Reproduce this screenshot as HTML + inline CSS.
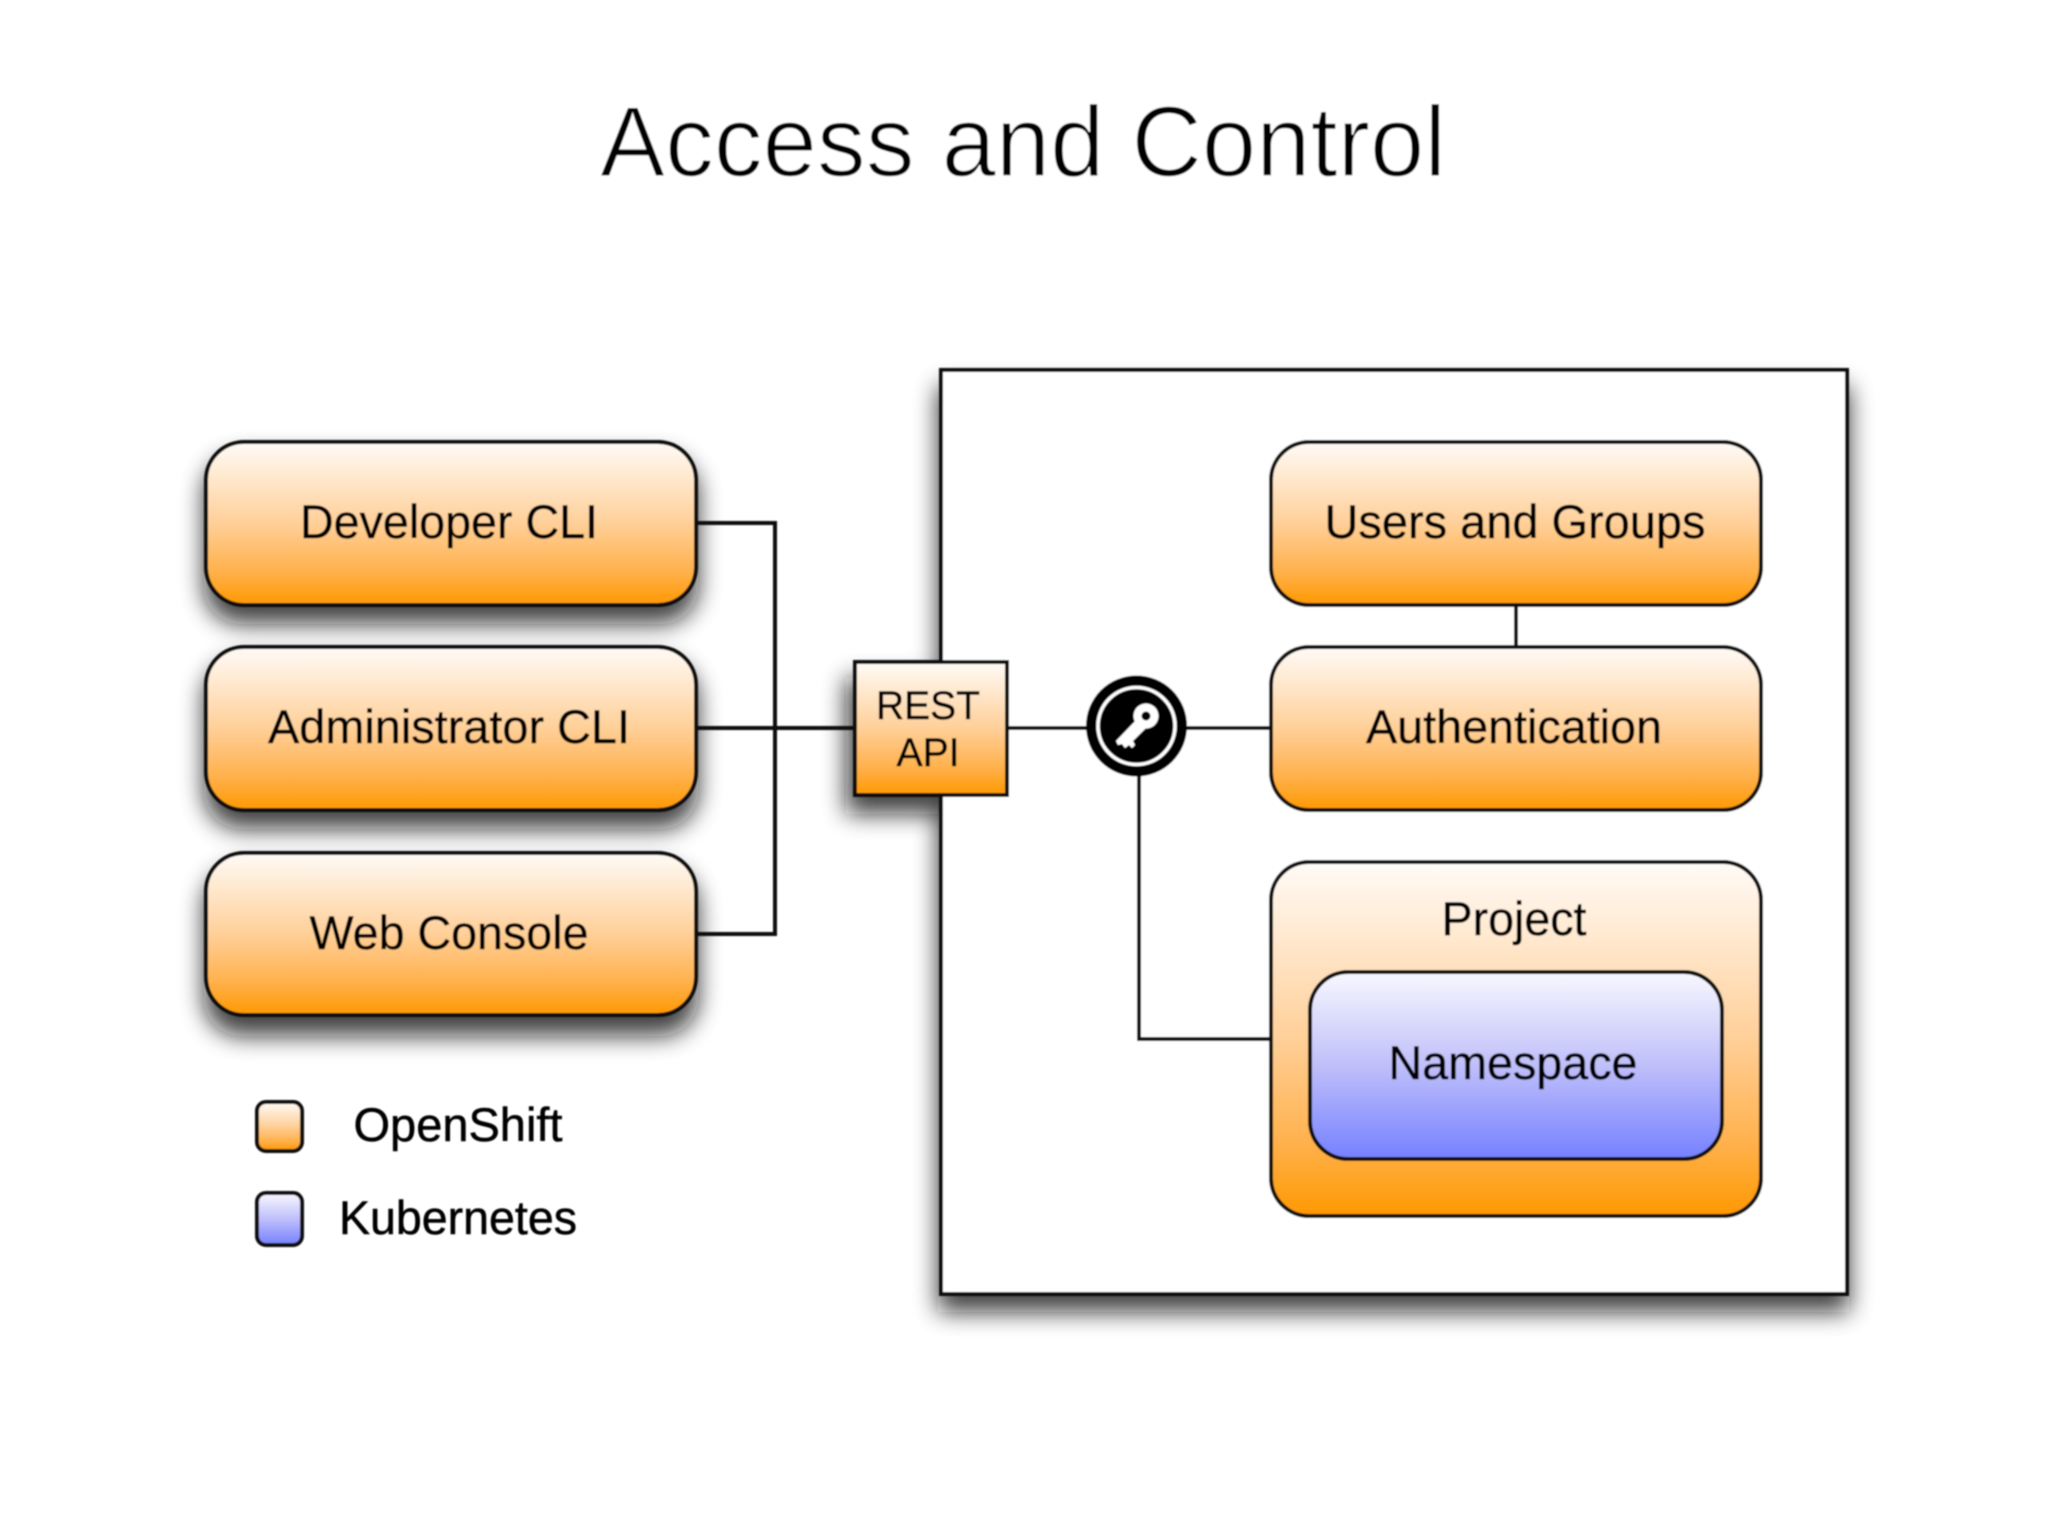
<!DOCTYPE html>
<html><head><meta charset="utf-8"><style>html,body{margin:0;padding:0;background:#fff}svg{display:block}</style></head>
<body>
<svg xmlns="http://www.w3.org/2000/svg" width="2048" height="1536" viewBox="0 0 2048 1536" font-family="'Liberation Sans',sans-serif">
<defs>
<linearGradient id="o" x1="0" y1="0" x2="0" y2="1"><stop offset="0" stop-color="#fffbf7"/><stop offset=".5" stop-color="#ffcf98"/><stop offset=".8" stop-color="#ffb04a"/><stop offset="1" stop-color="#ff9800"/></linearGradient>
<linearGradient id="b" x1="0" y1="0" x2="0" y2="1"><stop offset="0" stop-color="#f8f8ff"/><stop offset=".5" stop-color="#bfbffa"/><stop offset="1" stop-color="#7580ff"/></linearGradient>
<filter id="s" x="-20%" y="-20%" width="140%" height="150%"><feGaussianBlur stdDeviation="12"/></filter>
<filter id="soft" x="-2%" y="-2%" width="104%" height="104%"><feGaussianBlur stdDeviation="0.9"/></filter>
</defs>
<rect width="2048" height="1536" fill="#fff"/>
<g filter="url(#soft)">
<text x="1023" y="176" font-size="100" text-anchor="middle" textLength="846" lengthAdjust="spacingAndGlyphs" fill="#000" stroke="#fff" stroke-width="1.4">Access and Control</text>

<!-- shadows -->
<g fill="#111" opacity=".8" filter="url(#s)">
<rect x="938" y="386" width="911" height="926"/>
<rect x="204" y="456" width="494" height="168" rx="38"/>
<rect x="204" y="661" width="494" height="168" rx="38"/>
<rect x="204" y="868" width="494" height="168" rx="38"/>
<rect x="846" y="678" width="157" height="136"/>
</g>

<!-- outer box -->
<rect x="941" y="370" width="906" height="924" fill="#fff" stroke="#111" stroke-width="4"/>
<rect x="776" y="470" width="164" height="60" fill="none"/>

<!-- connectors -->
<g fill="none" stroke="#111" stroke-width="4">
<path d="M696 523H775V934H696"/>
<path d="M696 728H854"/>
<path d="M1007 728H1271"/>
<path d="M1139 760V1039H1271"/>
<path d="M1516 604V647"/>
</g>

<!-- boxes -->
<g fill="url(#o)" stroke="#111" stroke-width="4">
<rect x="206" y="442" width="490" height="163" rx="38"/>
<rect x="206" y="647" width="490" height="163" rx="38"/>
<rect x="206" y="853" width="490" height="162" rx="38"/>
<rect x="1271" y="442" width="490" height="163" rx="38"/>
<rect x="1271" y="647" width="490" height="163" rx="38"/>
<rect x="1271" y="862" width="490" height="354" rx="38"/>
<rect x="855" y="662" width="152" height="133"/>
<rect x="257" y="1102" width="45" height="49" rx="9"/>
</g>
<rect x="1310" y="972" width="412" height="187" rx="38" fill="url(#b)" stroke="#111" stroke-width="4"/>
<rect x="257" y="1193" width="45" height="52" rx="9" fill="url(#b)" stroke="#111" stroke-width="4"/>

<!-- key circle -->
<circle cx="1136.5" cy="726" r="50.5" fill="#000"/>
<circle cx="1136.5" cy="726" r="38.5" fill="#000" stroke="#fff" stroke-width="3.5"/>
<g fill="#fff">
<path d="M1140 716 L1116 741 L1118 745 L1122 744 L1125 748 L1129 745 L1132 748 L1135 745 L1133 741 L1149 725 Z"/>
<circle cx="1146" cy="716" r="12.5"/>
</g>
<circle cx="1146" cy="716" r="4.5" fill="#000"/>

<!-- labels -->
<g fill="#000" stroke="#000" stroke-width=".5" font-size="47" text-anchor="middle">
<text x="449" y="538" textLength="298" lengthAdjust="spacingAndGlyphs">Developer CLI</text>
<text x="449" y="743" textLength="362" lengthAdjust="spacingAndGlyphs">Administrator CLI</text>
<text x="449" y="949" textLength="279" lengthAdjust="spacingAndGlyphs">Web Console</text>
<text x="1515" y="538" textLength="381" lengthAdjust="spacingAndGlyphs">Users and Groups</text>
<text x="1514" y="743" textLength="296" lengthAdjust="spacingAndGlyphs">Authentication</text>
<text x="1514" y="935" textLength="145" lengthAdjust="spacingAndGlyphs">Project</text>
<text x="1513" y="1079" textLength="249" lengthAdjust="spacingAndGlyphs">Namespace</text>
<text x="458" y="1141" textLength="209" lengthAdjust="spacingAndGlyphs">OpenShift</text>
<text x="458" y="1234" textLength="238" lengthAdjust="spacingAndGlyphs">Kubernetes</text>
<text x="928" y="719" font-size="40" textLength="104" lengthAdjust="spacingAndGlyphs">REST</text>
<text x="928" y="766" font-size="40" textLength="63" lengthAdjust="spacingAndGlyphs">API</text>
</g>
</g>
</svg>
</body></html>
